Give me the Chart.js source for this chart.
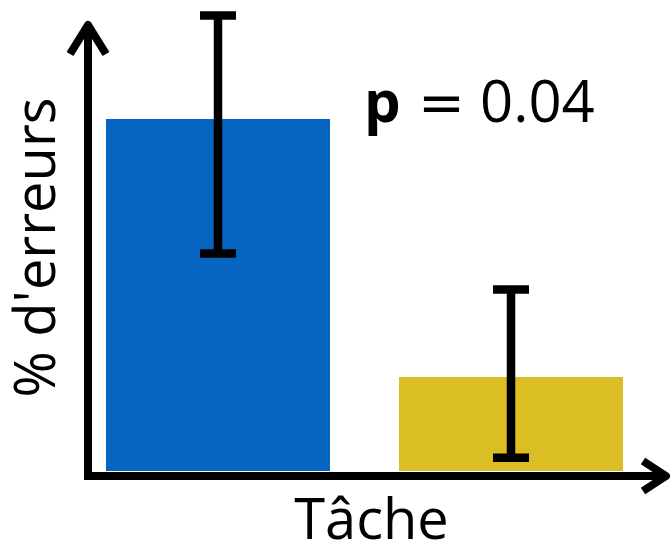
<!DOCTYPE html>
<html>
<head>
<meta charset="utf-8">
<script src="https://cdn.jsdelivr.net/npm/chart.js@4/dist/chart.umd.min.js"></script>
<style>
  html, body { margin: 0; padding: 0; background: #ffffff; }
  #c { display: block; }
</style>
</head>
<body>
<canvas id="c" width="671" height="541"></canvas>
<script>
// ---- data ----
const categories = ['Condition 1', 'Condition 2'];
const errorRate = [77.2, 20.6];        // % d'erreurs (bar heights)
const errorLow = [47.7, 2.9];          // lower end of error bar
const errorHigh = [99.9, 39.8];        // upper end of error bar
const barColors = ['#0565C0', '#DBBE24'];
const yRange = [0, 100];
const xTitle = 'Tâche';
const yTitle = "% d'erreurs";
const pLabel = 'p';
const pEquals = '=';
const pValue = '0.04';

const FONT = '"Open Sans", "Noto Sans", sans-serif';

const decorations = {
  id: 'decorations',
  afterDatasetsDraw(chart) {
    const ctx = chart.ctx;
    const xs = chart.scales.x, ys = chart.scales.y;
    const area = chart.chartArea;
    ctx.save();
    // error bars
    ctx.strokeStyle = '#000';
    ctx.lineWidth = 8.5;
    ctx.lineCap = 'butt';
    for (let i = 0; i < categories.length; i++) {
      const x = xs.getPixelForValue(i);
      const yl = ys.getPixelForValue(errorLow[i]);
      const yh = ys.getPixelForValue(errorHigh[i]);
      const half = 18;
      ctx.beginPath();
      ctx.moveTo(x, yl); ctx.lineTo(x, yh);
      ctx.moveTo(x - half, yl); ctx.lineTo(x + half, yl);
      ctx.moveTo(x - half, yh); ctx.lineTo(x + half, yh);
      ctx.stroke();
    }
    // axes with arrows
    const ax = area.left + 16.5;            // y axis position
    const ay = area.bottom + 5;             // x axis position
    ctx.lineWidth = 8;
    ctx.lineJoin = 'round';
    ctx.beginPath();
    ctx.moveTo(ax, ay + 4);
    ctx.lineTo(ax, 25);
    ctx.moveTo(ax - 4, ay);
    ctx.lineTo(667, ay);
    ctx.stroke();
    // y arrow head
    ctx.beginPath();
    ctx.moveTo(ax - 18, 54);
    ctx.lineTo(ax, 25);
    ctx.lineTo(ax + 18, 54);
    ctx.stroke();
    // x arrow head
    ctx.beginPath();
    ctx.moveTo(643, ay - 15);
    ctx.lineTo(666, ay);
    ctx.lineTo(643, ay + 15);
    ctx.stroke();

    // titles
    ctx.fillStyle = '#000';
    ctx.font = '56px ' + FONT;
    ctx.textAlign = 'center';
    ctx.textBaseline = 'alphabetic';
    ctx.fillText(xTitle, 371.5, 539);
    ctx.save();
    ctx.translate(55, 247.5);
    ctx.rotate(-Math.PI / 2);
    ctx.fillText(yTitle, 0, 0);
    ctx.restore();

    // p-value annotation
    ctx.textAlign = 'left';
    ctx.font = 'bold 58px ' + FONT;
    ctx.fillText(pLabel, 364, 122);
    ctx.font = '56px "DejaVu Sans", sans-serif';
    ctx.fillText(pEquals, 418, 122);
    ctx.font = '58px ' + FONT;
    ctx.fillText(pValue, 480, 122);
    ctx.restore();
  }
};

new Chart(document.getElementById('c'), {
  type: 'bar',
  data: {
    labels: categories,
    datasets: [{
      data: errorRate,
      backgroundColor: barColors,
      borderWidth: 0,
      barPercentage: 0.7645,
      categoryPercentage: 1.0
    }]
  },
  options: {
    responsive: false,
    animation: false,
    devicePixelRatio: 1,
    layout: { padding: { left: 71.5, right: 13.5, top: 15, bottom: 70 } },
    plugins: { legend: { display: false }, tooltip: { enabled: false } },
    scales: {
      x: { display: false },
      y: { display: false, min: yRange[0], max: yRange[1] }
    }
  },
  plugins: [decorations]
});
</script>
</body>
</html>
